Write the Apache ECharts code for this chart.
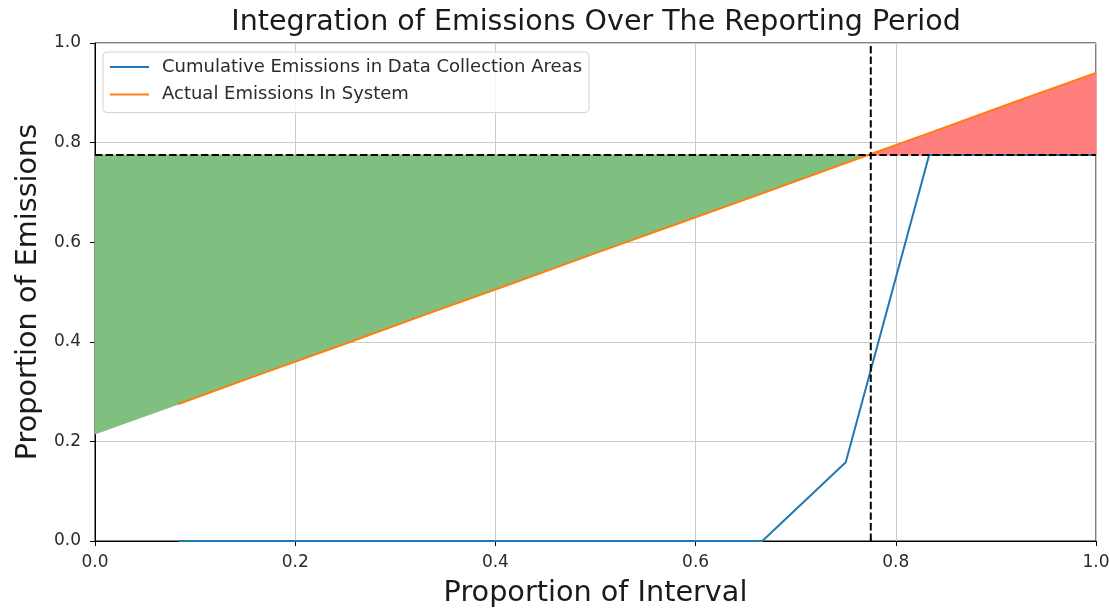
<!DOCTYPE html>
<html>
<head>
<meta charset="utf-8">
<script src="https://cdn.jsdelivr.net/npm/echarts@6/dist/echarts.min.js"></script>
<style>
  html, body { margin: 0; padding: 0; background: #fff; }
  #chart { width: 1109px; height: 608px; }
</style>
</head>
<body>
<div id="chart"></div>
<script>
// Sample positions across the reporting period (twelfths of the interval)
const intervalX = [0, 1/12, 2/12, 3/12, 4/12, 5/12, 6/12, 7/12, 8/12, 9/12, 10/12, 11/12, 1];
// Cumulative emissions captured in data collection areas (starts at first twelfth)
const cumulativeY = [null, 0, 0, 0, 0, 0, 0, 0, 0, 0.158, 0.775, 0.775, 0.775];
// Actual emissions in the system
const actualY = [0.215, 0.275, 0.336, 0.396, 0.457, 0.517, 0.578, 0.638, 0.698, 0.759, 0.819, 0.880, 0.940];
// Reference level / crossing point
const threshold = 0.775;
const crossX = 0.775;

const FONT = 'DejaVu Sans';

// Split the region between the actual-emissions curve and the threshold
// into the part below (green) and above (red) the threshold.
function buildRegions() {
  const below = [], above = [];
  for (let i = 0; i < intervalX.length; i++) {
    const x = intervalX[i], y = actualY[i];
    if (y <= threshold) below.push([x, y]); else above.push([x, y]);
    if (i < intervalX.length - 1) {
      const y2 = actualY[i + 1];
      if ((y - threshold) * (y2 - threshold) < 0) {
        const t = (threshold - y) / (y2 - y);
        const xc = x + t * (intervalX[i + 1] - x);
        below.push([xc, threshold]);
        above.push([xc, threshold]);
      }
    }
  }
  const belowPoly = below.concat([[below[0][0], threshold]]);
  const abovePoly = above.concat([[above[above.length - 1][0], threshold]]);
  return { belowPoly, abovePoly };
}
const regions = buildRegions();

function polygonSeries(points, color) {
  return {
    type: 'custom',
    silent: true,
    z: 1,
    data: [0],
    renderItem: function (params, api) {
      const pts = points.map(p => api.coord(p));
      return {
        type: 'polygon',
        shape: { points: pts },
        style: { fill: color, stroke: color, lineWidth: 1 }
      };
    }
  };
}

const chart = echarts.init(document.getElementById('chart'), null, { renderer: 'canvas' });

const tickLabel = { color: '#2b2b2b', fontFamily: FONT, fontSize: 17 };
const nameStyle = { fontFamily: FONT, fontSize: 28.7, color: '#1a1a1a' };

chart.setOption({
  animation: false,
  title: {
    text: 'Integration of Emissions Over The Reporting Period',
    left: 591,
    textAlign: 'center',
    top: 3,
    textStyle: { fontFamily: FONT, fontSize: 28.5, fontWeight: 'normal', color: '#1a1a1a' }
  },
  legend: {
    orient: 'vertical',
    left: 103,
    top: 52,
    padding: [4, 7, 7, 7],
    itemGap: 5.6,
    itemWidth: 39,
    itemHeight: 2,
    icon: 'rect',
    borderColor: '#d4d4d4',
    borderWidth: 1,
    borderRadius: 4,
    backgroundColor: 'rgba(255,255,255,0.8)',
    textStyle: { fontFamily: FONT, fontSize: 18, color: '#2b2b2b', lineHeight: 22, padding: [0, 0, 0, 8] },
    data: ['Cumulative Emissions in Data Collection Areas', 'Actual Emissions In System']
  },
  grid: {
    left: 95, top: 43, width: 1001, height: 498,
    outerBoundsMode: 'none',
    containLabel: false,
    show: true, borderColor: '#000', borderWidth: 1, backgroundColor: 'transparent'
  },
  xAxis: {
    type: 'value', min: 0, max: 1, interval: 0.2,
    name: 'Proportion of Interval',
    nameLocation: 'middle', nameGap: 38,
    nameTextStyle: nameStyle,
    axisLine: { show: true, lineStyle: { color: '#000', width: 1 } },
    axisTick: { show: true, length: 5, lineStyle: { color: '#000' } },
    axisLabel: Object.assign({ margin: 13, formatter: v => v.toFixed(1) }, tickLabel),
    splitLine: { show: true, lineStyle: { color: '#cbcbcb', width: 1 } }
  },
  yAxis: {
    type: 'value', min: 0, max: 1, interval: 0.2,
    name: 'Proportion of Emissions',
    nameLocation: 'middle', nameGap: 50,
    nameTextStyle: nameStyle,
    axisLine: { show: true, lineStyle: { color: '#000', width: 1 } },
    axisTick: { show: true, length: 5, lineStyle: { color: '#000' } },
    axisLabel: Object.assign({ margin: 14, formatter: v => v.toFixed(1) }, tickLabel),
    splitLine: { show: true, lineStyle: { color: '#cbcbcb', width: 1 } }
  },
  series: [
    polygonSeries(regions.belowPoly, 'rgb(127,191,127)'),
    polygonSeries(regions.abovePoly, 'rgb(255,127,127)'),
    {
      name: 'Cumulative Emissions in Data Collection Areas',
      type: 'line', z: 3,
      showSymbol: false, symbol: 'none',
      color: '#1f77b4',
      lineStyle: { width: 2, color: '#1f77b4' },
      data: intervalX.map((x, i) => [x, cumulativeY[i]]).filter(p => p[1] !== null)
    },
    {
      name: 'Actual Emissions In System',
      type: 'line', z: 4,
      showSymbol: false, symbol: 'none',
      color: '#ff7f0e',
      lineStyle: { width: 2, color: '#ff7f0e' },
      data: intervalX.map((x, i) => [x, actualY[i]]).slice(1)
    },
    {
      name: 'threshold', type: 'line', z: 5, symbol: 'none', silent: true,
      lineStyle: { color: '#000', width: 2, type: [7.4, 3.2] },
      data: [[0, threshold], [1, threshold]]
    },
    {
      name: 'crossing', type: 'line', z: 5, symbol: 'none', silent: true,
      lineStyle: { color: '#000', width: 2, type: [7.4, 3.2] },
      data: [[crossX, 0], [crossX, 1]]
    }
  ]
});
</script>
</body>
</html>
